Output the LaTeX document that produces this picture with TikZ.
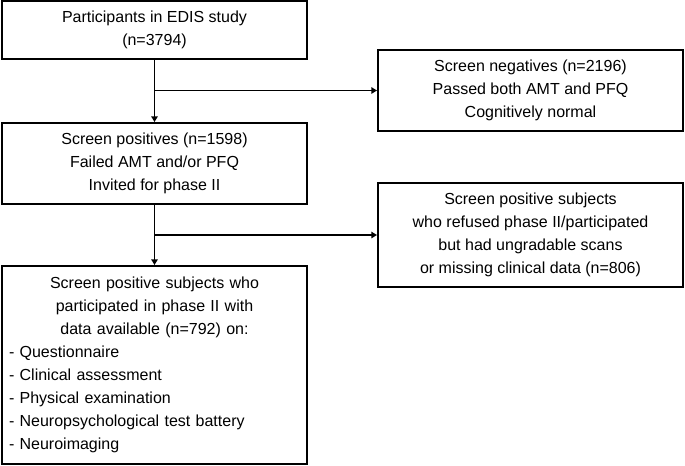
\documentclass[tikz,border=0pt]{standalone}
\usepackage{fontspec}
\setmainfont{Liberation Sans}
\usepackage{tikz}
\usetikzlibrary{arrows.meta}
\newcommand{\ctrline}[1]{\hfill #1\hfill\mbox{}}

\begin{document}
\begin{tikzpicture}[
    box/.style={draw, line width=1.4pt, align=center, inner sep=0pt,
        minimum width=7.625cm, font=\fontsize{11.38}{16.36}\selectfont},
    flow/.style={line width=1.2pt, -{Triangle[length=4pt, width=4.5pt]}}]
    \useasboundingbox (0,0) rectangle (17.125,-11.625);

    \node[box, minimum height=1.45cm] (participants) at (3.8625,-0.75)
        {Participants in EDIS study\\(n=3794)};

    \node[box, minimum height=2.025cm] (negatives) at (13.2625,-2.2625)
        {Screen negatives (n=2196)\\Passed both AMT and PFQ\\Cognitively normal};

    \node[box, minimum height=2.025cm] (positives) at (3.8625,-4.0875)
        {Screen positives (n=1598)\\Failed AMT and/or PFQ\\Invited for phase II};

    \node[box, minimum height=2.6cm] (refused) at (13.2625,-5.875)
        {Screen positive subjects\\who refused phase II/participated\\but had ungradable scans\\or missing clinical data (n=806)};

    \node[box, minimum height=4.95cm, text width=7.275cm, align=left] (phasetwo) at (3.8625,-9.125)
        {\ctrline{Screen positive subjects who}\\
         \ctrline{participated in phase II with}\\
         \ctrline{data available (n=792) on:}\\
         - Questionnaire\\
         - Clinical assessment\\
         - Physical examination\\
         - Neuropsychological test battery\\
         - Neuroimaging};

    \coordinate (split1) at (participants.south |- negatives.west);
    \coordinate (split2) at (positives.south |- refused.west);

    \draw[flow] (participants) -- (positives);
    \draw[flow] (split1) -- (negatives.west);
    \draw[flow] (positives) -- (phasetwo);
    \draw[flow] (split2) -- (refused.west);
\end{tikzpicture}
\end{document}
